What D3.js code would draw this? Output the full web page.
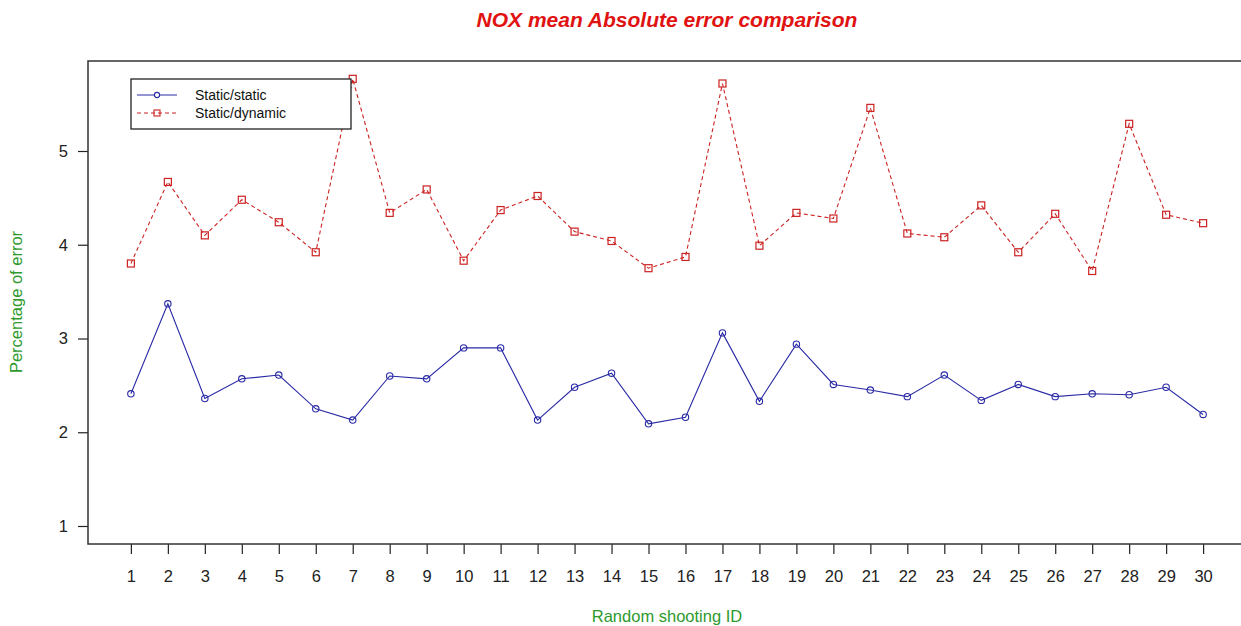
<!DOCTYPE html>
<html>
<head>
<meta charset="utf-8">
<script src="https://cdn.jsdelivr.net/npm/d3@7"></script>
<style>
  html, body { margin: 0; padding: 0; background: #ffffff; }
  svg { display: block; font-family: "Liberation Sans", Arial, sans-serif; }
</style>
</head>
<body>
<svg id="chart" width="1241" height="626"></svg>
<script>
// Shooting IDs along the x axis
const shootingIds = d3.range(1, 31);

// Mean absolute error (%) per shooting, static/static configuration
const staticStatic = [
  2.41, 3.37, 2.36, 2.57, 2.61, 2.25, 2.13, 2.60, 2.57, 2.90,
  2.90, 2.13, 2.48, 2.63, 2.09, 2.16, 3.06, 2.33, 2.94, 2.51,
  2.45, 2.38, 2.61, 2.34, 2.51, 2.38, 2.41, 2.40, 2.48, 2.19
];

// Mean absolute error (%) per shooting, static/dynamic configuration
const staticDynamic = [
  3.80, 4.67, 4.10, 4.48, 4.24, 3.92, 5.77, 4.34, 4.59, 3.83,
  4.37, 4.52, 4.14, 4.04, 3.75, 3.87, 5.72, 3.99, 4.34, 4.28,
  5.46, 4.12, 4.08, 4.42, 3.92, 4.33, 3.72, 5.29, 4.32, 4.23
];

const yTicks = [1, 2, 3, 4, 5];

const seriesNames = ["Static/static", "Static/dynamic"];

const titleText = "NOX mean Absolute error comparison";
const xLabelText = "Random shooting ID";
const yLabelText = "Percentage of error";

// Layout
const plot = { left: 88, top: 61, right: 1246, bottom: 544 };
const blue = "#2a2aa6";
const red = "#cc2222";
const green = "#2e9a2e";

const svg = d3.select("#chart");

const x = d3.scaleLinear()
  .domain([1 - 0.04 * 29, 30 + 0.04 * 29])
  .range([plot.left, plot.right]);

const y = d3.scaleLinear()
  .domain([0.808, 5.96])
  .range([plot.bottom, plot.top]);

// Axes
const xAxis = d3.axisBottom(x)
  .tickValues(shootingIds)
  .tickFormat(d3.format("d"))
  .tickSizeOuter(0)
  .tickSize(10)
  .tickPadding(16);

const gx = svg.append("g")
  .attr("transform", `translate(0,${plot.bottom})`)
  .call(xAxis);
gx.select(".domain").remove();
gx.selectAll(".tick line").attr("stroke", "#222").attr("stroke-width", 1.2);
gx.selectAll(".tick text")
  .attr("fill", "#222")
  .attr("font-size", "16.5px")
  .attr("font-family", "Liberation Sans, Arial, sans-serif");

const yAxis = d3.axisLeft(y)
  .tickValues(yTicks)
  .tickFormat(d3.format("d"))
  .tickSizeOuter(0)
  .tickSize(10)
  .tickPadding(10);

const gy = svg.append("g")
  .attr("transform", `translate(${plot.left},0)`)
  .call(yAxis);
gy.select(".domain").remove();
gy.selectAll(".tick line").attr("stroke", "#222").attr("stroke-width", 1.2);
gy.selectAll(".tick text")
  .attr("fill", "#222")
  .attr("font-size", "16.5px")
  .attr("font-family", "Liberation Sans, Arial, sans-serif");

// Plot frame
svg.append("rect")
  .attr("x", plot.left)
  .attr("y", plot.top)
  .attr("width", plot.right - plot.left)
  .attr("height", plot.bottom - plot.top)
  .attr("fill", "none")
  .attr("stroke", "#333")
  .attr("stroke-width", 1.5);

// Series lines
const line = d3.line()
  .x((d, i) => x(shootingIds[i]))
  .y(d => y(d));

svg.append("path")
  .datum(staticStatic)
  .attr("d", line)
  .attr("fill", "none")
  .attr("stroke", blue)
  .attr("stroke-width", 1.1);

svg.append("path")
  .datum(staticDynamic)
  .attr("d", line)
  .attr("fill", "none")
  .attr("stroke", red)
  .attr("stroke-width", 1.1)
  .attr("stroke-dasharray", "4,3");

// Markers
svg.append("g")
  .selectAll("circle")
  .data(staticStatic)
  .join("circle")
  .attr("cx", (d, i) => x(shootingIds[i]))
  .attr("cy", d => y(d))
  .attr("r", 3.2)
  .attr("fill", "none")
  .attr("stroke", blue)
  .attr("stroke-width", 1.1);

const sq = 7;
svg.append("g")
  .selectAll("rect")
  .data(staticDynamic)
  .join("rect")
  .attr("x", (d, i) => x(shootingIds[i]) - sq / 2)
  .attr("y", d => y(d) - sq / 2)
  .attr("width", sq)
  .attr("height", sq)
  .attr("fill", "none")
  .attr("stroke", red)
  .attr("stroke-width", 1.2);

// Legend
const legend = svg.append("g");
legend.append("rect")
  .attr("x", 131)
  .attr("y", 79)
  .attr("width", 220)
  .attr("height", 50)
  .attr("fill", "#ffffff")
  .attr("stroke", "#222")
  .attr("stroke-width", 1.3);

const rows = [
  { name: seriesNames[0], color: blue, dash: null, cy: 95, shape: "circle" },
  { name: seriesNames[1], color: red, dash: "4,3", cy: 113, shape: "square" }
];

rows.forEach(r => {
  legend.append("line")
    .attr("x1", 137).attr("x2", 177)
    .attr("y1", r.cy).attr("y2", r.cy)
    .attr("stroke", r.color)
    .attr("stroke-width", 1.1)
    .attr("stroke-dasharray", r.dash);
  if (r.shape === "circle") {
    legend.append("circle")
      .attr("cx", 157).attr("cy", r.cy).attr("r", 2.6)
      .attr("fill", "#fff").attr("stroke", r.color).attr("stroke-width", 1.1);
  } else {
    legend.append("rect")
      .attr("x", 157 - 3).attr("y", r.cy - 3).attr("width", 6).attr("height", 6)
      .attr("fill", "none").attr("stroke", r.color).attr("stroke-width", 1.1);
  }
  legend.append("text")
    .attr("x", 195)
    .attr("y", r.cy + 5)
    .attr("font-size", "14px")
    .attr("fill", "#111")
    .text(r.name);
});

// Title and axis labels
svg.append("text")
  .attr("x", 667)
  .attr("y", 27)
  .attr("text-anchor", "middle")
  .attr("font-size", "21px")
  .attr("font-weight", "bold")
  .attr("font-style", "italic")
  .attr("fill", "#e01212")
  .text(titleText);

svg.append("text")
  .attr("x", 667)
  .attr("y", 622)
  .attr("text-anchor", "middle")
  .attr("font-size", "16.5px")
  .attr("fill", green)
  .text(xLabelText);

svg.append("text")
  .attr("transform", "translate(22,302) rotate(-90)")
  .attr("text-anchor", "middle")
  .attr("font-size", "16.5px")
  .attr("fill", green)
  .text(yLabelText);
</script>
</body>
</html>
